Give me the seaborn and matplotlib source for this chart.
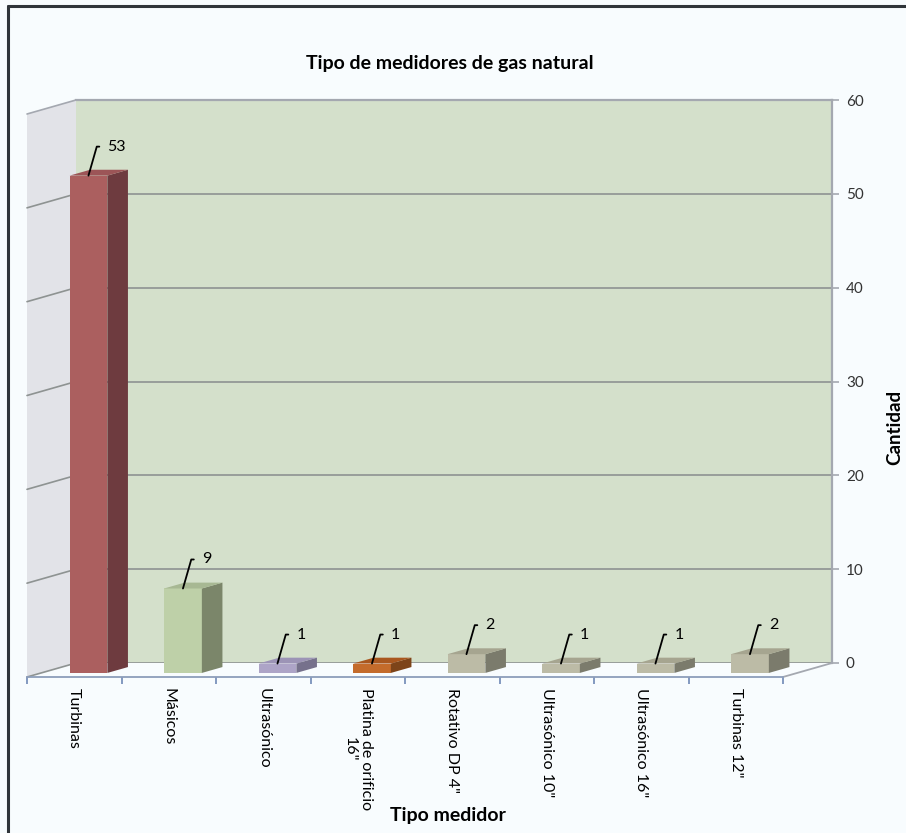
import matplotlib
matplotlib.use("Agg")
import matplotlib.pyplot as plt
from matplotlib.lines import Line2D
import numpy as np
import pandas as pd
import seaborn as sns

# ---- data -------------------------------------------------------------
categories = [
    "Turbinas",
    "Másicos",
    "Ultrasónico",
    "Platina de orificio\n16\"",
    "Rotativo DP 4\"",
    "Ultrasónico 10\"",
    "Ultrasónico 16\"",
    "Turbinas 12\"",
]
counts = [53, 9, 1, 1, 2, 1, 1, 2]
y_ticks = [0, 10, 20, 30, 40, 50, 60]

title = "Tipo de medidores de gas natural"
x_title = "Tipo medidor"
y_title = "Cantidad"

# ---- style ------------------------------------------------------------
BG = "#F8FCFE"
WALL_BACK = "#D4E0CB"
WALL_SIDE = "#E2E3E8"
GRID = "#8E9392"
EDGE = "#A4A8B0"
AXIS_BLUE = "#6F88B5"
FRONT = ["#AB5F5F", "#BED0A8", "#ADA4C7", "#C46B2B",
         "#BCBBA6", "#BCBBA6", "#BCBBA6", "#BCBBA6"]
SIDE = ["#6E3B3F", "#7B866A", "#76718C", "#7D4419",
        "#7B7B6C", "#7B7B6C", "#7B7B6C", "#7B7B6C"]
TOP = ["#9C5557", "#A7B893", "#9C94B6", "#A9571F",
       "#A6A590", "#A6A590", "#A6A590", "#A6A590"]
FONT = ["Lato", "DejaVu Sans"]

sns.set_theme(style="white")
plt.rcParams["font.family"] = FONT

W, H = 906, 833
fig = plt.figure(figsize=(W / 100, H / 100), dpi=100, facecolor=BG)


def box(left, top, right, bottom):
    return [left / W, 1 - bottom / H, (right - left) / W, (bottom - top) / H]


# oblique depth of the floor, in pixels
DEPTH_X, DEPTH_Y = 49, 14
BAR_PLANE = 0.29      # fraction of floor depth where bar fronts sit
BAR_DEPTH = 0.42      # fraction of floor depth occupied by a bar
F_L, F_T, F_R, F_B = 27, 114, 783, 677   # front plane of the floor

# back wall with the value axis on its right edge
ax_back = fig.add_axes(box(F_L + DEPTH_X, F_T - DEPTH_Y, F_R + DEPTH_X, F_B - DEPTH_Y))
ax_back.set_facecolor(WALL_BACK)
ax_back.set_xlim(-0.5, len(categories) - 0.5)
ax_back.set_ylim(y_ticks[0], y_ticks[-1])
ax_back.set_xticks([])
ax_back.set_yticks(y_ticks)
ax_back.yaxis.tick_right()
ax_back.tick_params(axis="y", right=True, length=5, width=1.2, color=EDGE,
                    labelsize=11, labelcolor="#333333", pad=5)
ax_back.grid(axis="y", color=GRID, lw=1.2)
for side in ["left", "bottom"]:
    ax_back.spines[side].set_visible(False)
for side in ["right", "top"]:
    ax_back.spines[side].set_color(EDGE)
    ax_back.spines[side].set_linewidth(1.6)
ax_back.set_zorder(0)

# floor front edge: category ticks, labels, side wall
ax_floor = fig.add_axes(box(F_L, F_T, F_R, F_B))
ax_floor.patch.set_visible(False)
ax_floor.set_xlim(-0.5, len(categories) - 0.5)
ax_floor.set_ylim(y_ticks[0], y_ticks[-1])
ax_floor.set_yticks([])
ax_floor.set_xticks(np.arange(-0.5, len(categories), 1.0))
ax_floor.set_xticklabels([])
ax_floor.set_xticks(np.arange(len(categories)), minor=True)
ax_floor.set_xticklabels(categories, minor=True, rotation=270,
                         fontsize=11.5, color="black")
ax_floor.tick_params(axis="x", which="major", bottom=True, length=5, width=1.2,
                     color=AXIS_BLUE)
ax_floor.tick_params(axis="x", which="minor", bottom=True, length=0, pad=8)
for side in ["left", "right", "top"]:
    ax_floor.spines[side].set_visible(False)
ax_floor.spines["bottom"].set_color("#8C9DBA")
ax_floor.spines["bottom"].set_linewidth(1.3)

ppx = (len(categories)) / (F_R - F_L)
ppy = (y_ticks[-1] - y_ticks[0]) / (F_B - F_T)
dX, dY = DEPTH_X * ppx, DEPTH_Y * ppy
x_left = -0.5
ax_floor.fill([x_left, x_left, x_left + dX, x_left + dX],
              [0, y_ticks[-1], y_ticks[-1] + dY, dY],
              color=WALL_SIDE, lw=0, clip_on=False, zorder=0)
for v in y_ticks:
    ax_floor.plot([x_left, x_left + dX], [v, v + dY], color=GRID if v < y_ticks[-1] else EDGE,
                  lw=1.2, clip_on=False, zorder=1)
x_right = len(categories) - 0.5
ax_floor.plot([x_right, x_right + dX], [0, dY], color=EDGE, lw=1.3,
              clip_on=False, zorder=1)
ax_floor.set_zorder(1)

# bars
ax_bar = fig.add_axes(box(F_L + BAR_PLANE * DEPTH_X, F_T - BAR_PLANE * DEPTH_Y,
                          F_R + BAR_PLANE * DEPTH_X, F_B - BAR_PLANE * DEPTH_Y))
ax_bar.patch.set_visible(False)
df = pd.DataFrame({"tipo": categories, "cantidad": counts})
sns.barplot(data=df, x="tipo", y="cantidad", hue="tipo", order=categories,
            hue_order=categories, palette=FRONT, width=0.4, saturation=1,
            errorbar=None, legend=False, ax=ax_bar, linewidth=0)
ax_bar.set_xlim(-0.5, len(categories) - 0.5)
ax_bar.set_ylim(y_ticks[0], y_ticks[-1])
ax_bar.axis("off")
ax_bar.set_zorder(2)

bdx, bdy = BAR_DEPTH * dX, BAR_DEPTH * dY
for p in list(ax_bar.patches):
    x0, w, h = p.get_x(), p.get_width(), p.get_height()
    if w <= 0:
        continue
    i = int(round(x0 + w / 2))
    x1 = x0 + w
    ax_bar.fill([x1, x1 + bdx, x1 + bdx, x1], [0, bdy, h + bdy, h],
                color=SIDE[i], lw=0, clip_on=False)
    ax_bar.fill([x0, x1, x1 + bdx, x0 + bdx], [h, h, h + bdy, h + bdy],
                color=TOP[i], lw=0, clip_on=False)

# value labels with a hooked leader line
for i, v in enumerate(counts):
    ax_bar.annotate(str(v), xy=(i, v), xytext=(19, 29), textcoords="offset pixels",
                    ha="left", va="center", fontsize=11.5, color="black",
                    annotation_clip=False,
                    arrowprops=dict(arrowstyle="-", color="black", lw=1.3,
                                    shrinkA=3.5, shrinkB=0, relpos=(0, 0.5),
                                    connectionstyle="angle,angleA=0,angleB=74,rad=0"))

fig.text(450 / W, 1 - 63 / H, title, ha="center", va="center",
         fontsize=14, fontweight="bold", color="black")
fig.text(448 / W, 1 - 815 / H, x_title, ha="center", va="center",
         fontsize=14, fontweight="bold", color="black")
fig.text(895 / W, 1 - 427 / H, y_title, ha="center", va="center", rotation=90,
         fontsize=13.5, fontweight="bold", color="black")

# frame along the top and left of the chart area
fig.add_artist(Line2D([8 / W, 8 / W], [0, 1 - 6 / H], transform=fig.transFigure,
                      color="#30353A", lw=2.2))
fig.add_artist(Line2D([8 / W, 1], [1 - 6 / H, 1 - 6 / H], transform=fig.transFigure,
                      color="#30353A", lw=2.2))

fig.savefig("out.png", dpi=100, facecolor=BG)
